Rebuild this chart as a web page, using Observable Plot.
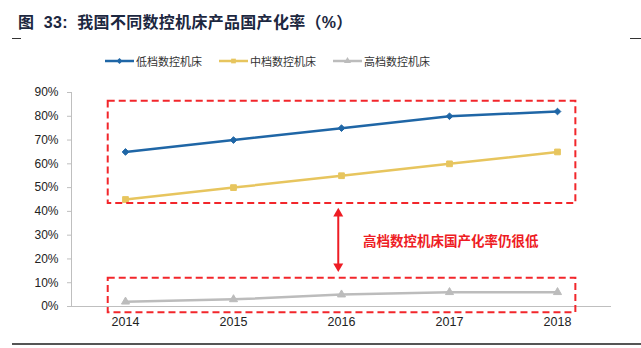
<!DOCTYPE html>
<html><head><meta charset="utf-8">
<script src="https://cdn.jsdelivr.net/npm/d3@7"></script>
<script src="https://cdn.jsdelivr.net/npm/@observablehq/plot@0.6"></script>
<style>
body{margin:0;background:#fff;width:641px;height:348px;overflow:hidden;font-family:"Liberation Sans","Noto Sans CJK SC",sans-serif;}
.abs{position:absolute}
</style></head>
<body>
<div id="title" style="position:relative;height:38px">
  <span class="abs" style="left:18px;top:9px;font-weight:bold;font-size:16px;letter-spacing:0.3px;color:#1c2740;white-space:nowrap;font-family:'Liberation Sans','Noto Sans CJK SC',sans-serif">图&nbsp;&nbsp;33:&nbsp;&nbsp;我国不同数控机床产品国产化率（%）</span>
</div>
<div style="position:relative;height:1px">
  <div class="abs" style="left:12px;top:0;width:9px;height:1px;background:#333"></div>
  <div class="abs" style="left:630px;top:0;width:11px;height:1px;background:#333"></div>
</div>
<div id="legend" style="position:relative;height:36px"></div>
<div id="chart"></div>
<div style="position:relative;height:16px">
  <div class="abs" style="left:12px;top:11px;width:629px;height:2px;background:#555"></div>
</div>
<script>
const years = [2014, 2015, 2016, 2017, 2018];
const lowEnd = [65, 70, 75, 80, 82];
const midEnd = [45, 50, 55, 60, 65];
const highEnd = [2, 3, 5, 6, 6];
const seriesNames = ["低档数控机床", "中档数控机床", "高档数控机床"];
const seriesColors = ["#1f66a6", "#e7c55e", "#bcbcbc"];
const seriesSymbols = ["diamond2", "square", "triangle"];
const seriesR = [3.8, 4.4, 3.8];
const yTicks = [0, 10, 20, 30, 40, 50, 60, 70, 80, 90];
const noteText = "高档数控机床国产化率仍很低";
// annotation frames in data units (x: year, y: percent)
const frameBoxes = [
  {x1: 2013.84, x2: 2018.17, y1: 43.3, y2: 86.3},
  {x1: 2013.84, x2: 2018.17, y1: -2.6, y2: 11.9}
];
const arrowSpan = [{x: 2015.97, y1: 41.6, y2: 14.4}];
const notePos = [{x: 2016.2, y: 27.4}];

const allValues = [lowEnd, midEnd, highEnd];
const rows = [];
allValues.forEach((vals, si) => years.forEach((yr, i) => rows.push({series: seriesNames[si], year: yr, value: vals[i]})));

// legend
const legend = document.getElementById("legend");
const legendLeft = [105, 219, 333];
seriesNames.forEach((name, i) => {
  const item = document.createElement("div");
  item.className = "abs";
  item.style.cssText = `left:${legendLeft[i]}px;top:14px;display:flex;align-items:center;height:16px`;
  const sw = d3.create("svg").attr("width", 29).attr("height", 12);
  sw.append("line").attr("x1", 0).attr("x2", 29).attr("y1", 6).attr("y2", 6).attr("stroke", seriesColors[i]).attr("stroke-width", 2.5);
  const sym = {diamond2: d3.symbolDiamond2, square: d3.symbolSquare, triangle: d3.symbolTriangle}[seriesSymbols[i]];
  sw.append("path").attr("transform", "translate(14.5,6)").attr("d", d3.symbol(sym, 22)()).attr("fill", seriesColors[i]);
  item.appendChild(sw.node());
  const t = document.createElement("span");
  t.textContent = name;
  t.style.cssText = "margin-left:2px;font-size:11px;color:#333;font-family:'Noto Sans CJK SC',sans-serif;white-space:nowrap";
  item.appendChild(t);
  legend.appendChild(item);
});

const chart = Plot.plot({
  width: 641,
  height: 257,
  marginTop: 17,
  marginBottom: 26,
  marginLeft: 71,
  marginRight: 30,
  style: {fontFamily: "'Liberation Sans', Arial, sans-serif", fontSize: "12px", color: "#222", background: "#fff"},
  x: {domain: [2013.5, 2018.5], ticks: years, tickFormat: d => String(d), tickSize: 0, tickPadding: 11, label: null},
  y: {domain: [0, 90], ticks: yTicks, tickFormat: d => d + "%", tickSize: 4, tickPadding: 9, label: null},
  color: {domain: seriesNames, range: seriesColors},
  symbol: {domain: seriesNames, range: seriesSymbols},
  marks: [
    Plot.ruleX([2013.5], {y1: 0, y2: 90, stroke: "#bfbfbf", strokeWidth: 1}),
    Plot.ruleY([0], {x1: 2013.5, x2: 2018.5, stroke: "#bfbfbf", strokeWidth: 1}),
    Plot.axisY({ticks: yTicks, tickFormat: d => d + "%", tickSize: 4, tickPadding: 9, stroke: "#bfbfbf", fill: "#222", fontSize: 12}),
    Plot.axisX({ticks: years, tickFormat: d => String(d), tickSize: 0, tickPadding: 11, fill: "#222", fontSize: 12.5}),
    Plot.lineY(rows, {x: "year", y: "value", z: "series", stroke: "series", strokeWidth: 2.5}),
    Plot.dot(rows, {x: "year", y: "value", symbol: "series", fill: "series", stroke: "series", strokeWidth: 1, r: d => seriesR[seriesNames.indexOf(d.series)]}),
    Plot.rect(frameBoxes, {x1: "x1", x2: "x2", y1: "y1", y2: "y2", fill: "none", stroke: "#f2262b", strokeWidth: 2, strokeDasharray: "7,4"}),
    Plot.link(arrowSpan, {x1: "x", x2: "x", y1: d => d.y1 - 3, y2: d => d.y2 + 3, stroke: "#ee1c24", strokeWidth: 2}),
    Plot.dot(arrowSpan, {x: "x", y: "y1", symbol: "triangle", r: 3.7, fill: "#ee1c24", stroke: "none", dy: 6}),
    Plot.dot(arrowSpan, {x: "x", y: "y2", symbol: "triangle", r: 3.7, fill: "#ee1c24", stroke: "none", dy: -6, rotate: 180}),
    Plot.text(notePos, {x: "x", y: "y", text: () => noteText, textAnchor: "start", fill: "#ee1c24", fontWeight: "bold", fontSize: 13.5, fontFamily: "'Noto Sans CJK SC', sans-serif"})
  ]
});
document.getElementById("chart").appendChild(chart);
</script>
</body></html>
